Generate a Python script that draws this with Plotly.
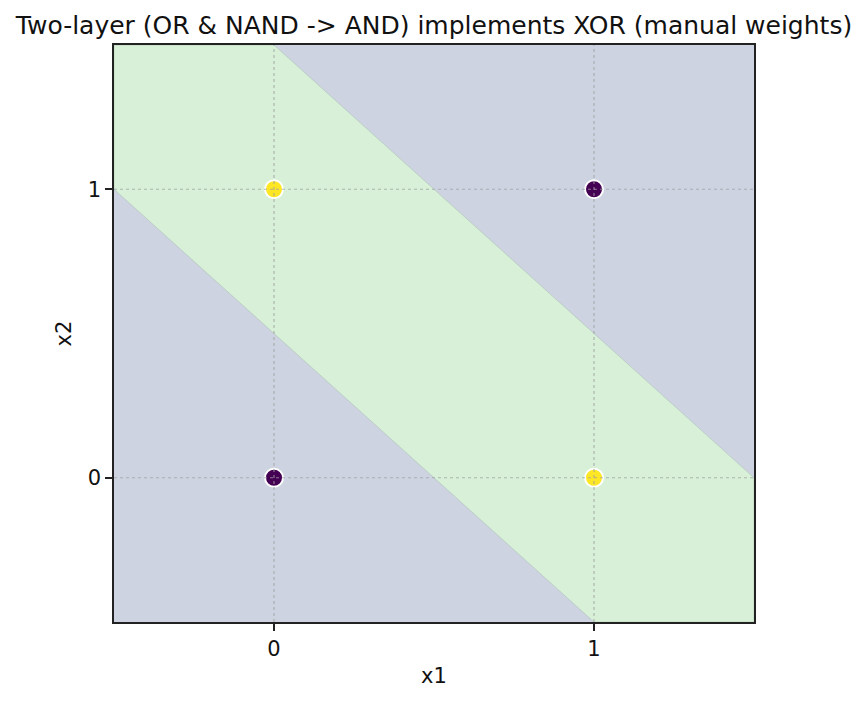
import plotly.graph_objects as go

# XOR data
x1_pts = [0, 0, 1, 1]
x2_pts = [0, 1, 0, 1]
y_pts = [0, 1, 1, 0]

# manual weights: hidden layer (OR, NAND), output (AND of the two)
w_or = [1.0, 1.0]
b_or = -0.5
w_nand = [-1.0, -1.0]
b_nand = 1.5

tick_vals = [0, 1]
tick_text = ["0", "1"]
x_range = [-0.5, 1.5]
y_range = [-0.5, 1.5]

col_neg = "#CDD3E1"
col_pos = "#D7F0D7"
col_pt0 = "#440154"
col_pt1 = "#FDE725"


def clip(poly, w, b):
    """Clip polygon to half-plane w.x + b >= 0 (Sutherland-Hodgman)."""
    out = []
    n = len(poly)
    for i in range(n):
        p, q = poly[i], poly[(i + 1) % n]
        fp = w[0] * p[0] + w[1] * p[1] + b
        fq = w[0] * q[0] + w[1] * q[1] + b
        if fp >= 0:
            out.append(p)
        if (fp >= 0) != (fq >= 0):
            t = fp / (fp - fq)
            out.append((p[0] + t * (q[0] - p[0]), p[1] + t * (q[1] - p[1])))
    return out


box = [(x_range[0], y_range[0]), (x_range[1], y_range[0]),
       (x_range[1], y_range[1]), (x_range[0], y_range[1])]
region = clip(clip(box, w_or, b_or), w_nand, b_nand)
rx = [p[0] for p in region] + [region[0][0]]
ry = [p[1] for p in region] + [region[0][1]]

fig = go.Figure()
fig.add_trace(go.Scatter(
    x=rx, y=ry, mode="lines", fill="toself", fillcolor=col_pos,
    line=dict(width=0.6, color="rgba(150,175,160,0.6)"),
    hoverinfo="skip", showlegend=False,
))

fig.add_trace(go.Scatter(
    x=x1_pts, y=x2_pts, mode="markers",
    marker=dict(size=18, color=[col_pt1 if v else col_pt0 for v in y_pts],
                line=dict(color="white", width=2)),
    showlegend=False,
))

# dotted grid above everything
for v in tick_vals:
    fig.add_shape(type="line", x0=v, x1=v, y0=0, y1=1, xref="x", yref="paper",
                  line=dict(color="rgba(160,160,160,0.75)", width=1.2, dash="dot"),
                  layer="above")
    fig.add_shape(type="line", y0=v, y1=v, x0=0, x1=1, yref="y", xref="paper",
                  line=dict(color="rgba(160,160,160,0.75)", width=1.2, dash="dot"),
                  layer="above")

axis_common = dict(
    showgrid=False, zeroline=False, showline=True, linecolor="#222222", linewidth=1.6,
    mirror=True, ticks="outside", ticklen=7, tickwidth=1.6, tickcolor="#222222",
    tickvals=tick_vals, ticktext=tick_text,
    tickfont=dict(family="DejaVu Sans", size=21, color="#111111"),
    title_font=dict(family="DejaVu Sans", size=21, color="#111111"),
)

fig.update_layout(
    width=859, height=693,
    margin=dict(l=106, r=113, t=37, b=79),
    paper_bgcolor="white", plot_bgcolor=col_neg,
    title=dict(text="Two-layer (OR & NAND -> AND) implements XOR (manual weights)",
               x=(106 + 320) / 859, xanchor="center", y=1 - 17 / 693, yanchor="middle",
               font=dict(family="DejaVu Sans", size=25, color="#111111")),
    xaxis=dict(range=x_range, title=dict(text="x1", standoff=8), **axis_common),
    yaxis=dict(range=y_range, title=dict(text="x2", standoff=10), **axis_common),
)

fig.write_html("out.html")
